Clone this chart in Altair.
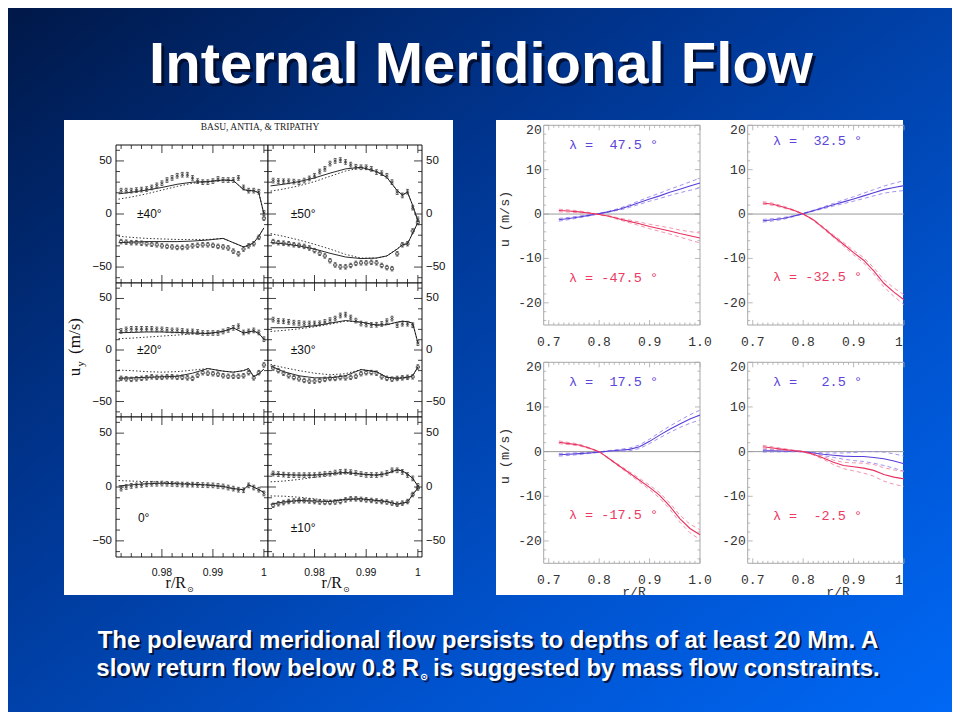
import altair as alt
import pandas as pd

W, H = 944, 704
OFF = 8


def P(v):
    return v - OFF


ONE = pd.DataFrame({"k": [0]})

# ---------------- left figure (Basu, Antia & Tripathy) data ----------------
R_PTS = [0.972, 0.973, 0.974, 0.975, 0.976, 0.977, 0.978, 0.979, 0.980, 0.981,
         0.982, 0.983, 0.984, 0.985, 0.986, 0.987, 0.988, 0.989, 0.990, 0.991,
         0.992, 0.993, 0.994, 0.995, 0.996, 0.997, 0.998, 0.999, 1.000]
R_LINE = [0.9715, 0.974, 0.977, 0.980, 0.983, 0.986, 0.989, 0.992, 0.994, 0.996,
          0.997, 0.998, 0.999, 1.000]

A40_UP_PTS = [22, 22, 22, 22.5, 23, 23.5, 25, 27, 29, 32, 34, 36, 37, 37, 34, 31, 30, 30, 31, 33, 32, 32, 32, 34, 25, 22, 22, 21, 1]
A40_LO_PTS = [-26, -26.5, -27, -27, -27.5, -28, -28.5, -29, -30, -30.5, -31, -31.5, -31.5, -31, -30, -29.5, -29, -29, -29.5, -30.5, -31, -32, -35, -37.5, -33, -30, -28, -22, -4]
A40_UP_SOLID = [19, 20.5, 22.5, 25, 28, 30, 30.5, 32, 31.5, 23, 22, 22, 20, 0]
A40_UP_DOT = [14, 16, 19, 22.5, 26, 29, 30.5, 32, 31.5, 23, 22, 22, 20, 0]
A40_LO_SOLID = [-27, -26.5, -26, -26, -26, -25.5, -24.5, -23, -27, -31, -29.5, -27, -21, -13]
A40_LO_DOT = [-21, -22, -23, -23.5, -24, -24, -24, -23, -27, -31, -29.5, -27, -21, -13]

A50_UP_PTS = [31.5, 31, 30.8, 30.8, 30.5, 30, 31.5, 33.5, 36, 40, 42.5, 47.5, 50, 50.8, 49, 46.5, 44.5, 44, 44, 42.5, 39.5, 38.5, 36, 30, 20.6, 17.5, 21, 6, -5]
A50_LO_PTS = [-26, -27, -27.5, -28, -29, -29.5, -30.5, -32, -34.5, -37, -39.5, -44, -48, -49.8, -49.8, -48.5, -46.5, -46, -46, -45.5, -46, -48.5, -50.5, -51.5, -37.5, -29, -28, -16, -8]
A50_UP_SOLID = [26.5, 28, 30.5, 34, 38.5, 42.5, 44, 40, 34.5, 22, 18, 20.5, 8, -6.5]
A50_UP_DOT = [21.5, 23.5, 26.5, 30.5, 35.5, 40.5, 43.5, 40, 34.5, 22, 18, 20.5, 8, -6.5]
A50_LO_SOLID = [-27, -28, -30, -33, -37, -40.5, -42, -41.5, -39.5, -33, -29, -28, -18, -8]
A50_LO_DOT = [-18.5, -21, -24.5, -28.5, -33, -38, -41.5, -41.5, -39.5, -33, -29, -28, -18, -8]

A20_UP_PTS = [18.5, 20, 20.5, 20.5, 20.5, 20.5, 20.5, 20, 20, 19.5, 19, 19, 18.5, 18, 18, 17.5, 16.5, 16.5, 16.5, 16.5, 18, 19.5, 21.5, 23, 17, 18, 19, 17, 10.5]
A20_LO_PTS = [-27.5, -28, -28.5, -28, -27.5, -27, -26, -26.5, -26.5, -26, -26, -26.5, -26.5, -27, -27.5, -24.5, -22, -22.5, -23, -23.5, -25, -25.5, -25.5, -25.5, -25, -22, -27, -22, -14.5]
A20_UP_SOLID = [16.8, 17, 17.5, 17.5, 17, 16.5, 16, 18, 21.5, 16.5, 17.5, 18.5, 16, 10.5]
A20_UP_DOT = [11, 11.5, 12.5, 13.5, 14.5, 15.5, 16, 18, 21.5, 16.5, 17.5, 18.5, 16, 10.5]
A20_LO_SOLID = [-27.5, -27, -26.5, -26, -25.5, -22.5, -18, -20.5, -21.5, -20, -18, -26, -23, -18.5]
A20_LO_DOT = [-19.5, -20, -21, -21.5, -21, -19.5, -18, -20.5, -21.5, -20, -18, -26, -23, -18.5]

A30_UP_PTS = [29.5, 28.2, 27.9, 27.3, 26.5, 26.2, 25.7, 25.7, 25.7, 25.9, 27.2, 29, 30.5, 33.5, 34.3, 31.5, 28.5, 25.7, 24.8, 24.3, 24.5, 25.3, 28, 30.5, 24.1, 25.5, 25.5, 24, 6.7]
A30_LO_PTS = [-17.5, -20, -22.5, -25, -26.7, -28, -29.5, -30.2, -30.2, -29.5, -28.5, -27.6, -27.6, -26.8, -27, -26.5, -25.5, -23, -22, -21.9, -22.5, -26, -27.5, -28.3, -27.6, -27, -26.5, -26, -16.5]
A30_UP_SOLID = [21.6, 21.6, 22, 23.5, 26, 28.6, 27, 24.2, 24.5, 27, 27.9, 27.5, 26, 7]
A30_UP_DOT = [18, 19, 20.5, 22.5, 25, 28, 27, 24.2, 24.5, 27, 27.9, 27.5, 26, 7]
A30_LO_SOLID = [-15.5, -21, -25, -27, -27, -25, -19, -21, -26.5, -27.5, -27, -26.5, -25, -16.5]
A30_LO_DOT = [-14, -17, -20, -22.5, -24, -23, -19, -21, -26.5, -27.5, -27, -26.5, -25, -16.5]

A0_PTS = [-1.5, 0, 1, 1.5, 2, 2.5, 3, 3, 3.2, 3, 2.8, 2.5, 2.3, 2.2, 2.2, 2, 1.8, 1.6, 1.5, 1, 0.5, -0.5, -1.5, -2.5, -3, 1.5, -0.5, -2.5, -6]
A0_SOLID = [1, 2, 3, 3.5, 3, 2.5, 1.8, 0.5, -1.5, -2.5, 1.8, 0, -2.5, -5]
A0_DOT = [6, 5.5, 5, 4.5, 3.8, 3, 2, 0.5, -1.5, -2.5, 1.8, 0, -2.5, -5]

A10_UP_PTS = [12.5, 12, 11.5, 11, 11, 11, 11, 11, 11, 11.5, 12, 12.3, 13.4, 14, 14.3, 13.8, 13, 12, 11.2, 11.1, 11.1, 11.7, 13, 15.5, 15.5, 14, 11.1, 8, 1]
A10_LO_PTS = [-17, -15.5, -14.5, -13.5, -13, -12.7, -12.7, -13, -13.5, -14, -14.3, -14.3, -14, -13.5, -12, -11, -11, -11.5, -12, -12.5, -13, -13.5, -14, -15, -16, -15, -13.5, -7, -1]
A10_UP_SOLID = [12, 11.5, 11, 11, 12.5, 13.5, 12, 11, 12.5, 16, 15, 12, 8, 1]
A10_UP_DOT = [4.8, 5.5, 7, 9, 11.5, 13, 12, 11, 12.5, 16, 15, 12, 8, 1]
A10_LO_SOLID = [-16, -14, -12.5, -13, -13.5, -11.5, -11, -12.5, -13.5, -16, -15, -14, -7, -1]
A10_LO_DOT = [-8.3, -8.5, -9.5, -11, -12.5, -11.5, -11, -12.5, -13.5, -16, -15, -14, -7, -1]

# ---------------- right figure (model flows) data ----------------
R_MOD = [0.72, 0.74, 0.76, 0.78, 0.80, 0.82, 0.84, 0.86, 0.88, 0.90, 0.92, 0.94, 0.96, 0.98, 1.00]
B47_N = [-1.3, -1.0, -0.65, -0.3, 0.1, 0.55, 1.1, 1.8, 2.6, 3.4, 4.1, 4.9, 5.6, 6.3, 7.0]
B47_S = [0.8, 0.7, 0.5, 0.25, -0.1, -0.5, -1.1, -1.65, -2.2, -2.8, -3.3, -3.8, -4.4, -4.9, -5.4]
B32_N = [-1.5, -1.3, -1.0, -0.5, 0.1, 0.75, 1.4, 2.1, 2.75, 3.4, 4.1, 4.8, 5.5, 6.0, 6.4]
B32_S = [2.5, 2.2, 1.6, 0.9, 0.0, -1.3, -3.1, -5.0, -6.8, -8.7, -10.4, -12.8, -15.6, -17.6, -19.3]
B17_N = [-0.7, -0.6, -0.45, -0.3, -0.1, 0.15, 0.3, 0.5, 1.1, 2.3, 3.7, 5.0, 6.2, 7.3, 8.2]
B17_S = [2.1, 1.8, 1.5, 0.8, 0.0, -1.6, -3.2, -4.8, -6.4, -8.0, -9.8, -12.2, -15.0, -17.2, -18.6]
B02_N = [0.2, 0.2, 0.15, 0.1, 0.0, -0.3, -0.6, -0.8, -1.0, -1.1, -1.1, -1.3, -1.6, -2.1, -2.7]
B02_S = [1.1, 0.8, 0.5, 0.25, 0.0, -0.6, -1.4, -2.4, -3.1, -3.4, -3.7, -4.2, -5.1, -5.7, -6.1]
ERR = [0.3, 0.25, 0.2, 0.12, 0.05, 0.1, 0.2, 0.3, 0.4, 0.5, 0.6, 0.7, 0.8, 0.95, 1.1]
ERR_EQ = [0.3, 0.25, 0.2, 0.12, 0.05, 0.15, 0.3, 0.5, 0.7, 0.9, 1.1, 1.3, 1.5, 1.6, 1.7]

# ---------------- text ----------------
TITLE = "Internal Meridional Flow"
LINE1 = "The poleward meridional flow persists to depths of at least 20 Mm. A"
LINE2A = "slow return flow below 0.8 R"
LINE2SUB = "\u2299"
LINE2B = "is suggested by mass flow constraints."
AUTHORS = "BASU, ANTIA, & TRIPATHY"

# ---------------- layout / style ----------------
STOPS = [(0.0, "#001848"), (0.35, "#00358f"), (0.7, "#0052cc"), (1.0, "#0068f5")]


def grad_color(t):
    for (o0, c0), (o1, c1) in zip(STOPS[:-1], STOPS[1:]):
        if o0 <= t <= o1:
            f = (t - o0) / (o1 - o0)
            a = [int(c0[i:i + 2], 16) for i in (1, 3, 5)]
            b = [int(c1[i:i + 2], 16) for i in (1, 3, 5)]
            return "#" + "".join("%02x" % round(a[k] + (b[k] - a[k]) * f) for k in range(3))
    return STOPS[-1][1]


def bg_at(xp, yp):
    return grad_color(((P(xp) / W) + (P(yp) / H)) / 2)


def sc(dom, rng):
    return alt.Scale(domain=list(dom), range=[float(rng[0]), float(rng[1])], nice=False, zero=False)


class Panel:
    def __init__(self, xdom, xr, ydom, yr):
        self.xdom, self.xr, self.ydom, self.yr = xdom, xr, ydom, yr
        self.xs, self.ys = sc(xdom, xr), sc(ydom, yr)

    def ex(self, f):
        return alt.X(f + ":Q", scale=self.xs, axis=None)

    def ey(self, f):
        return alt.Y(f + ":Q", scale=self.ys, axis=None)

    def segs(self, df, **mk):
        return alt.Chart(df).mark_rule(**mk).encode(
            x=self.ex("x1"), x2=alt.X2("x2"), y=self.ey("y1"), y2=alt.Y2("y2"))

    def box(self, **mk):
        df = pd.DataFrame({"x1": [self.xdom[0]], "x2": [self.xdom[1]],
                           "y1": [self.ydom[0]], "y2": [self.ydom[1]]})
        return alt.Chart(df).mark_rect(**mk).encode(
            x=self.ex("x1"), x2=alt.X2("x2"), y=self.ey("y1"), y2=alt.Y2("y2"))

    def line(self, df, **mk):
        return alt.Chart(df).mark_line(**mk).encode(
            x=self.ex("r"), y=self.ey("u"), detail="br:N", order="r:Q")

    def pts(self, df, **mk):
        return alt.Chart(df).mark_point(**mk).encode(x=self.ex("r"), y=self.ey("u"))

    def text(self, df, **mk):
        return alt.Chart(df).mark_text(**mk).encode(x=self.ex("r"), y=self.ey("u"), text="t:N")

    def ticks(self, xt, xmaj, yt, ymaj, lmaj, lmin, sides):
        ppx = abs(self.xr[1] - self.xr[0]) / (self.xdom[1] - self.xdom[0])
        ppy = abs(self.yr[0] - self.yr[1]) / (self.ydom[1] - self.ydom[0])
        xm = {round(v, 4) for v in xmaj}
        ym = {round(v, 4) for v in ymaj}
        rows = []
        for v in xt:
            L = (lmaj if round(v, 4) in xm else lmin) / ppy
            if "b" in sides:
                rows.append((v, v, self.ydom[0], self.ydom[0] + L))
            if "t" in sides:
                rows.append((v, v, self.ydom[1], self.ydom[1] - L))
        for v in yt:
            L = (lmaj if round(v, 4) in ym else lmin) / ppx
            if "l" in sides:
                rows.append((self.xdom[0], self.xdom[0] + L, v, v))
            if "r" in sides:
                rows.append((self.xdom[1], self.xdom[1] - L, v, v))
        return pd.DataFrame(rows, columns=["x1", "x2", "y1", "y2"])


def txt(s, x, y, size, color, font="Liberation Sans", weight="normal", align="center",
        baseline="middle", angle=None, opacity=1.0):
    kw = dict(text=s, fontSize=size, font=font, fontWeight=weight, color=color,
              align=align, baseline=baseline, opacity=opacity)
    if angle is not None:
        kw["angle"] = angle
    return alt.Chart(ONE).mark_text(**kw).encode(x=alt.value(P(x)), y=alt.value(P(y)))


def prect(x0, y0, x1, y1, color):
    return alt.Chart(ONE).mark_rect(color=color).encode(
        x=alt.value(P(x0)), x2=alt.value(P(x1)), y=alt.value(P(y0)), y2=alt.value(P(y1)))


layers = []

# background gradient
layers.append(alt.Chart(ONE).mark_rect(fill=alt.LinearGradient(
    gradient="linear", x1=0, y1=0, x2=1, y2=1,
    stops=[alt.GradientStop(offset=o, color=c) for o, c in STOPS])).encode(
    x=alt.value(0), x2=alt.value(W), y=alt.value(0), y2=alt.value(H)))

# title
layers.append(txt(TITLE, 484, 86, 58, "#000820", weight="bold", baseline="alphabetic", opacity=0.8))
layers.append(txt(TITLE, 481, 83, 58, "white", weight="bold", baseline="alphabetic"))

# image boxes
layers.append(prect(64, 120, 453, 595, "white"))
layers.append(prect(496, 120, 903, 595, "white"))

# ---------------- left figure ----------------
LX_DOM = [0.971, 1.0008]
LY_DOM = [-65, 65]
LEFT_COLS = [(P(116), P(268)), (P(268), P(422))]
LEFT_ROWS = [(P(283), P(145)), (P(417), P(283)), (P(557), P(417))]
LX_TICKS = [0.972, 0.974, 0.976, 0.978, 0.980, 0.982, 0.984, 0.986, 0.988, 0.990,
            0.992, 0.994, 0.996, 0.998, 1.000]
LX_MAJ = [0.98, 0.99, 1.0]
LY_TICKS = [-60, -50, -40, -30, -20, -10, 0, 10, 20, 30, 40, 50, 60]
LY_MAJ = [-50, 0, 50]
LY_LABELS = [50, 0, -50]

UP_SHAPE = "M-0.6,-1H0.6M0,-1V1M-0.6,1H0.6M-0.7,-0.45L0.7,0.45M-0.7,0.45L0.7,-0.45"
LO_SHAPE = "M-0.7,-0.45H0.7V0.45H-0.7ZM-0.6,-1H0.6M0,-1V-0.45M0,0.45V1M-0.6,1H0.6"

LEFT = [
    dict(col=0, row=0, label="\u00b140\u00b0", lab=(0.9751, 0),
         up=(A40_UP_PTS, A40_UP_SOLID, A40_UP_DOT), lo=(A40_LO_PTS, A40_LO_SOLID, A40_LO_DOT)),
    dict(col=1, row=0, label="\u00b150\u00b0", lab=(0.9754, 0),
         up=(A50_UP_PTS, A50_UP_SOLID, A50_UP_DOT), lo=(A50_LO_PTS, A50_LO_SOLID, A50_LO_DOT)),
    dict(col=0, row=1, label="\u00b120\u00b0", lab=(0.9751, 0),
         up=(A20_UP_PTS, A20_UP_SOLID, A20_UP_DOT), lo=(A20_LO_PTS, A20_LO_SOLID, A20_LO_DOT)),
    dict(col=1, row=1, label="\u00b130\u00b0", lab=(0.9754, 0),
         up=(A30_UP_PTS, A30_UP_SOLID, A30_UP_DOT), lo=(A30_LO_PTS, A30_LO_SOLID, A30_LO_DOT)),
    dict(col=0, row=2, label="0\u00b0", lab=(0.9753, -29),
         up=(A0_PTS, A0_SOLID, A0_DOT), lo=None),
    dict(col=1, row=2, label="\u00b110\u00b0", lab=(0.9754, -38),
         up=(A10_UP_PTS, A10_UP_SOLID, A10_UP_DOT), lo=(A10_LO_PTS, A10_LO_SOLID, A10_LO_DOT)),
]

for pc in LEFT:
    pn = Panel(LX_DOM, LEFT_COLS[pc["col"]], LY_DOM, LEFT_ROWS[pc["row"]])
    layers.append(pn.box(fill="white", stroke="#111111", strokeWidth=1))
    layers.append(pn.segs(pn.ticks(LX_TICKS, LX_MAJ, LY_TICKS, LY_MAJ, 8, 4, "btlr"),
                          color="#111111", strokeWidth=0.8))
    solid, dot, pup, plo = [], [], [], []
    for br, data in (("up", pc["up"]), ("lo", pc["lo"])):
        if data is None:
            continue
        pts, sol, dt = data
        for r, u in zip(R_PTS, pts):
            (pup if br == "up" else plo).append({"r": r, "u": u})
        for r, u in zip(R_LINE, sol):
            solid.append({"r": r, "u": u, "br": br})
        for r, u in zip(R_LINE, dt):
            dot.append({"r": r, "u": u, "br": br})
    layers.append(pn.line(pd.DataFrame(dot), color="#222222", strokeWidth=0.9, strokeDash=[1.5, 2]))
    layers.append(pn.line(pd.DataFrame(solid), color="#111111", strokeWidth=0.9))
    layers.append(pn.pts(pd.DataFrame(pup), shape=UP_SHAPE, size=22, filled=False,
                         color="#333333", strokeWidth=0.75, opacity=1))
    if plo:
        layers.append(pn.pts(pd.DataFrame(plo), shape=LO_SHAPE, size=20, filled=False,
                             color="#333333", strokeWidth=0.75, opacity=1))
    layers.append(pn.text(pd.DataFrame({"r": [pc["lab"][0]], "u": [pc["lab"][1]], "t": [pc["label"]]}),
                          align="left", baseline="middle", fontSize=12, font="Liberation Sans",
                          color="#111111"))
    ylab = pd.DataFrame({"r": [LX_DOM[0] if pc["col"] == 0 else LX_DOM[1]] * 3, "u": LY_LABELS,
                         "t": ["50", "0", "\u221250"]})
    if pc["col"] == 0:
        layers.append(pn.text(ylab, align="right", dx=-4, fontSize=11.5, font="Liberation Sans", color="#111111"))
    else:
        layers.append(pn.text(ylab, align="left", dx=4, fontSize=11.5, font="Liberation Sans", color="#111111"))
    if pc["row"] == 2:
        xl = pd.DataFrame({"r": LX_MAJ, "u": [LY_DOM[0]] * 3, "t": ["0.98", "0.99", "1"]})
        layers.append(pn.text(xl, align="center", baseline="middle", dy=16, fontSize=10.5,
                              font="Liberation Sans", color="#111111"))

layers.append(txt(AUTHORS, 260, 127, 9.5, "#222222", font="Liberation Serif"))
# y title u_y (m/s)
layers.append(txt("(m/s)", 75, 336, 17, "#111111", font="Liberation Serif", angle=270))
layers.append(txt("u", 75, 372, 17, "#111111", font="Liberation Serif", angle=270))
layers.append(txt("y", 81, 364, 11, "#111111", font="Liberation Serif", angle=270))
# x titles r/R_sun
for xe in (186, 342):
    layers.append(txt("r/R", xe, 588, 16, "#111111", font="Liberation Serif", align="right",
                      baseline="alphabetic"))
    layers.append(txt("\u2299", xe + 1, 592, 8, "#111111", font="DejaVu Sans", align="left",
                      baseline="alphabetic"))

# ---------------- right figure ----------------
RX_DOM = [0.69, 1.0]
RY_DOM = [-25, 20]
RIGHT_COLS = [(P(543.7), P(700)), (P(747.7), P(904))]
RIGHT_ROWS = [(P(325), P(125.3)), (P(563.3), P(362.3))]
RX_TICKS = [round(0.70 + 0.01 * i, 2) for i in range(31)]
RX_MAJ = [0.7, 0.8, 0.9, 1.0]
RY_TICKS = list(range(-24, 21, 2))
RY_MAJ = [-20, -10, 0, 10, 20]

BLUE, RED = "#5a3fd8", "#e8305e"
BLUE_L, RED_L = "#9488ec", "#f28aa6"
MONO = "Liberation Mono"
AXC = "#a8a8a8"


def lam(v):
    return ("\u03bb = " + "%5s" % v + " \u00b0").replace(" ", "\u00a0")


RIGHT = [
    dict(col=0, row=0, lat="47.5", n=B47_N, s=B47_S, err=ERR, nu=15.6, su=-14.3),
    dict(col=1, row=0, lat="32.5", n=B32_N, s=B32_S, err=ERR, nu=16.5, su=-14.2),
    dict(col=0, row=1, lat="17.5", n=B17_N, s=B17_S, err=ERR, nu=15.7, su=-14.2),
    dict(col=1, row=1, lat="2.5", n=B02_N, s=B02_S, err=ERR_EQ, nu=15.7, su=-14.4),
]

for pc in RIGHT:
    pn = Panel(RX_DOM, RIGHT_COLS[pc["col"]], RY_DOM, RIGHT_ROWS[pc["row"]])
    x0, x1 = RX_DOM
    y0, y1 = RY_DOM
    fr = [(x0, x1, y0, y0), (x0, x1, y1, y1), (x0, x0, y0, y1)]
    if pc["col"] == 0:
        fr.append((x1, x1, y0, y1))
    layers.append(pn.segs(pd.DataFrame(fr, columns=["x1", "x2", "y1", "y2"]), color=AXC, strokeWidth=1))
    sides = "btlr" if pc["col"] == 0 else "btl"
    layers.append(pn.segs(pn.ticks(RX_TICKS, RX_MAJ, RY_TICKS, RY_MAJ, 5, 2.5, sides), color=AXC, strokeWidth=0.8))
    layers.append(pn.segs(pd.DataFrame({"x1": [x0], "x2": [x1], "y1": [0], "y2": [0]}), color="#999999", strokeWidth=1))
    for arr, cs, cl, br in ((pc["n"], BLUE, BLUE_L, "n"), (pc["s"], RED, RED_L, "s")):
        dash = []
        for r, u, e in zip(R_MOD, arr, pc["err"]):
            dash.append({"r": r, "u": u + e, "br": br + "hi"})
            dash.append({"r": r, "u": u - e, "br": br + "lo"})
        layers.append(pn.line(pd.DataFrame(dash), color=cl, strokeWidth=0.9, strokeDash=[4, 3]))
        layers.append(pn.line(pd.DataFrame({"r": R_MOD, "u": arr, "br": [br] * len(R_MOD)}),
                              color=cs, strokeWidth=1.1))
    layers.append(pn.text(pd.DataFrame({"r": [0.74], "u": [pc["nu"]], "t": [lam(pc["lat"])]}),
                          align="left", fontSize=13.5, font=MONO, color="#5b45dc"))
    layers.append(pn.text(pd.DataFrame({"r": [0.74], "u": [pc["su"]], "t": [lam("-" + pc["lat"])]}),
                          align="left", fontSize=13.5, font=MONO, color="#ec3a62"))
    # y tick labels
    layers.append(pn.text(pd.DataFrame({"r": [x0] * 4, "u": [10, 0, -10, -20], "t": ["10", "0", "-10", "-20"]}),
                          align="right", dx=-2, fontSize=13, font=MONO, color="#333333"))
    layers.append(pn.text(pd.DataFrame({"r": [x0], "u": [20], "t": ["20"]}),
                          align="right", dx=-2, dy=5, fontSize=13, font=MONO, color="#333333"))
    # x tick labels
    if pc["col"] == 0:
        xl = pd.DataFrame({"r": [0.7, 0.8, 0.9, 1.0], "u": [y0] * 4, "t": ["0.7", "0.8", "0.9", "1.0"]})
        layers.append(pn.text(xl, dy=17, fontSize=13, font=MONO, color="#333333"))
    else:
        xl = pd.DataFrame({"r": [0.7, 0.8, 0.9], "u": [y0] * 3, "t": ["0.7", "0.8", "0.9"]})
        layers.append(pn.text(xl, dy=17, fontSize=13, font=MONO, color="#333333"))
        layers.append(pn.text(pd.DataFrame({"r": [1.0], "u": [y0], "t": ["1"]}),
                              dx=-5, dy=17, fontSize=13, font=MONO, color="#333333"))

for yc in (219, 456):
    layers.append(txt("u\u00a0(m/s)", 505, yc, 13.5, "#333333", font=MONO, angle=270))
for xc in (634, 838):
    layers.append(txt("r/R", xc, 586, 13, "#333333", font=MONO, baseline="top"))
    layers.append(prect(xc - 18, 595, xc + 18, 606, bg_at(xc, 600)))

# ---------------- bottom caption ----------------
for dx, col, op in ((2, "#000820", 0.8), (0, "white", 1.0)):
    layers.append(txt(LINE1, 488 + dx, 641 + dx, 24, col, weight="bold", opacity=op))
    layers.append(txt(LINE2A, 419 + dx, 669 + dx, 24, col, weight="bold", align="right", opacity=op))
    layers.append(txt(LINE2SUB, 420 + dx, 677 + dx, 10, col, font="DejaVu Sans", weight="bold",
                      align="left", opacity=op))
    layers.append(txt(LINE2B, 433 + dx, 669 + dx, 24, col, weight="bold", align="left", opacity=op))

chart = alt.layer(*layers).resolve_scale(x="independent", y="independent").properties(
    width=W, height=H, padding=0, background="#0a3a9a").configure_view(stroke=None)

chart.save("out.html", embed_options={"renderer": "svg", "actions": False})
